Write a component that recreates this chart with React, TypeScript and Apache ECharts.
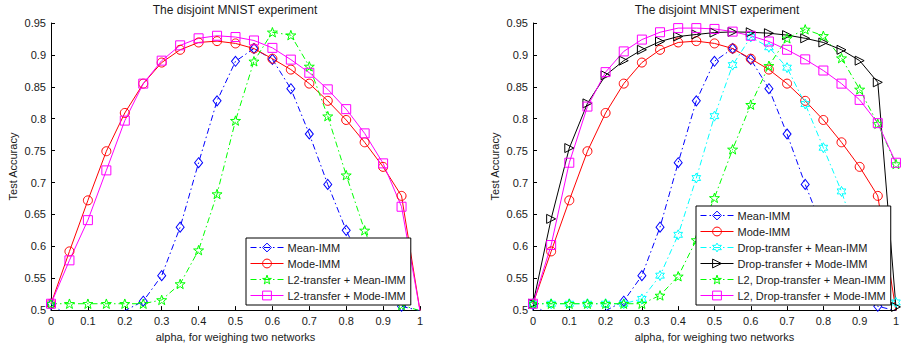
import React, { useEffect, useRef } from "react";
import * as echarts from "echarts";

const alpha = [0, 0.05, 0.1, 0.15, 0.2, 0.25, 0.3, 0.35, 0.4, 0.45, 0.5, 0.55, 0.6, 0.65, 0.7, 0.75, 0.8, 0.85, 0.9, 0.95, 1];

const meanIMM = [0.509, 0.49, 0.48, 0.48, 0.499, 0.514, 0.554, 0.63, 0.731, 0.828, 0.89, 0.91, 0.893, 0.847, 0.776, 0.697, 0.625, 0.565, 0.525, 0.506, 0.499];
const modeIMM = [0.51, 0.592, 0.672, 0.749, 0.809, 0.855, 0.888, 0.908, 0.9195, 0.9216, 0.918, 0.91, 0.894, 0.877, 0.855, 0.828, 0.798, 0.763, 0.7245, 0.679, 0.499];
const l2MeanIMM = [0.51, 0.51, 0.51, 0.51, 0.51, 0.51, 0.516, 0.541, 0.594, 0.682, 0.797, 0.89, 0.9355, 0.931, 0.882, 0.804, 0.7115, 0.625, 0.55, 0.508, 0.499];
const l2ModeIMM = [0.51, 0.578, 0.641, 0.719, 0.797, 0.855, 0.891, 0.915, 0.926, 0.93, 0.928, 0.9226, 0.911, 0.8926, 0.872, 0.846, 0.815, 0.777, 0.73, 0.662, 0.499];

const dropMeanIMM = [0.51, 0.51, 0.51, 0.51, 0.51, 0.51, 0.5175, 0.554, 0.618, 0.707, 0.804, 0.884, 0.928, 0.912, 0.88, 0.823, 0.7545, 0.686, 0.6, 0.53, 0.512];
const dropModeIMM = [0.51, 0.643, 0.754, 0.824, 0.868, 0.891, 0.908, 0.921, 0.9288, 0.932, 0.935, 0.936, 0.9355, 0.934, 0.931, 0.926, 0.9195, 0.908, 0.891, 0.857, 0.505];
const l2DropMeanIMM = [0.51, 0.51, 0.51, 0.51, 0.51, 0.51, 0.51, 0.523, 0.553, 0.61, 0.676, 0.752, 0.822, 0.883, 0.926, 0.94, 0.93, 0.895, 0.846, 0.792, 0.729];
const l2DropModeIMM = [0.51, 0.602, 0.731, 0.819, 0.873, 0.9055, 0.924, 0.9355, 0.942, 0.942, 0.9407, 0.9365, 0.93, 0.921, 0.908, 0.893, 0.8755, 0.855, 0.8295, 0.793, 0.731];

const TITLE = "The disjoint MNIST experiment";
const XNAME = "alpha, for weighing two networks";
const YNAME = "Test Accuracy";

const FONT = "Liberation Sans, Arial, sans-serif";
const TXT = "#1a1a1a";

function starPath(points: number, inner: number) {
  const R = 50;
  const parts: string[] = [];
  for (let i = 0; i < points * 2; i++) {
    const r = i % 2 === 0 ? R : R * inner;
    const a = -Math.PI / 2 + (i * Math.PI) / points;
    parts.push(`${i === 0 ? "M" : "L"}${(R + r * Math.cos(a)).toFixed(2)} ${(R + r * Math.sin(a)).toFixed(2)}`);
  }
  return "path://" + parts.join(" ") + " Z";
}

const PENTA = starPath(5, 0.4);
const HEXA = starPath(6, 0.55);
const DASHDOT = [6, 3, 1.5, 3];

function mk(name: string, values: number[], gi: number, color: string, symbol: string, size: any, dash: boolean, rotate = 0) {
  return {
    type: "line",
    name,
    xAxisIndex: gi,
    yAxisIndex: gi,
    data: alpha.map((a, i) => [a, values[i]]),
    symbol,
    symbolSize: size,
    symbolRotate: rotate,
    symbolKeepAspect: true,
    clip: true,
    lineStyle: { color, width: 1, type: dash ? DASHDOT : "solid" },
    itemStyle: { color: "rgba(0,0,0,0)", borderColor: color, borderWidth: 1 },
    emphasis: { disabled: true },
  };
}

function xAxis(gi: number) {
  return {
    type: "value",
    gridIndex: gi,
    min: 0,
    max: 1,
    interval: 0.1,
    name: XNAME,
    nameLocation: "middle",
    nameGap: 19,
    nameTextStyle: { fontSize: 11, color: TXT, fontFamily: FONT },
    axisLine: { show: true, lineStyle: { color: "#000", width: 1 } },
    axisTick: { show: true, inside: true, length: 4, lineStyle: { color: "#000" } },
    axisLabel: { fontSize: 11, color: TXT, margin: 5, fontFamily: FONT },
    splitLine: { show: false },
  };
}

function yAxis(gi: number) {
  return {
    type: "value",
    gridIndex: gi,
    min: 0.5,
    max: 0.95,
    interval: 0.05,
    name: YNAME,
    nameLocation: "middle",
    nameGap: 33,
    nameTextStyle: { fontSize: 11, color: TXT, fontFamily: FONT },
    axisLine: { show: true, lineStyle: { color: "#000", width: 1 } },
    axisTick: { show: true, inside: true, length: 4, lineStyle: { color: "#000" } },
    axisLabel: { fontSize: 11, color: TXT, margin: 5, fontFamily: FONT },
    splitLine: { show: false },
  };
}

function legend(names: string[], left: number, top: number) {
  return {
    data: names,
    orient: "vertical",
    left,
    top,
    padding: [4, 5, 4, 4],
    itemWidth: 33,
    itemHeight: 11,
    itemGap: 5,
    backgroundColor: "#fff",
    borderColor: "#000",
    borderWidth: 1,
    borderRadius: 0,
    itemStyle: { color: "rgba(0,0,0,0)", borderWidth: 1 },
    lineStyle: { width: 1 },
    textStyle: { fontSize: 11, color: TXT, fontFamily: FONT, padding: [0, 0, 0, -1] },
    selectedMode: false,
  };
}

export default function App() {
  const ref = useRef<HTMLDivElement>(null);
  useEffect(() => {
    if (!ref.current) return;
    const chart = echarts.init(ref.current, undefined, { renderer: "svg" });
    const leftSeries = [
      mk("Mean-IMM", meanIMM, 0, "#0000ff", "diamond", [8, 10], true),
      mk("Mode-IMM", modeIMM, 0, "#ff0000", "circle", 9, false),
      mk("L2-transfer + Mean-IMM", l2MeanIMM, 0, "#00ff00", PENTA, 10, true),
      mk("L2-transfer + Mode-IMM", l2ModeIMM, 0, "#ff00ff", "rect", 9, false),
    ];
    const rightSeries = [
      mk("Mean-IMM", meanIMM, 1, "#0000ff", "diamond", [8, 10], true),
      mk("Mode-IMM", modeIMM, 1, "#ff0000", "circle", 9, false),
      mk("Drop-transfer + Mean-IMM", dropMeanIMM, 1, "#00ffff", HEXA, 10, true),
      mk("Drop-transfer + Mode-IMM", dropModeIMM, 1, "#000000", "triangle", 9, false, -90),
      mk("L2, Drop-transfer + Mean-IMM", l2DropMeanIMM, 1, "#00ff00", PENTA, 10, true),
      mk("L2, Drop-transfer + Mode-IMM", l2DropModeIMM, 1, "#ff00ff", "rect", 9, false),
    ];
    chart.setOption({
      animation: false,
      textStyle: { fontFamily: FONT },
      grid: [
        { left: 51, right: 482, top: 23, bottom: 34 },
        { left: 533, right: 0, top: 23, bottom: 34 },
      ],
      xAxis: [xAxis(0), xAxis(1)],
      yAxis: [yAxis(0), yAxis(1)],
      legend: [
        legend(["Mean-IMM", "Mode-IMM", "L2-transfer + Mean-IMM", "L2-transfer + Mode-IMM"], 246, 238),
        legend(["Mean-IMM", "Mode-IMM", "Drop-transfer + Mean-IMM", "Drop-transfer + Mode-IMM", "L2, Drop-transfer + Mean-IMM", "L2, Drop-transfer + Mode-IMM"], 696, 206),
      ],
      graphic: [
        { type: "text", x: 235, y: 10, style: { text: TITLE, fontSize: 12, fill: TXT, fontFamily: FONT, textAlign: "center", textVerticalAlign: "middle" } },
        { type: "text", x: 717, y: 10, style: { text: TITLE, fontSize: 12, fill: TXT, fontFamily: FONT, textAlign: "center", textVerticalAlign: "middle" } },
      ],
      series: [...leftSeries, ...rightSeries],
    });
    return () => chart.dispose();
  }, []);
  return <div ref={ref} style={{ position: "fixed", left: 0, top: 0, width: 902, height: 347, background: "#fff" }} />;
}
